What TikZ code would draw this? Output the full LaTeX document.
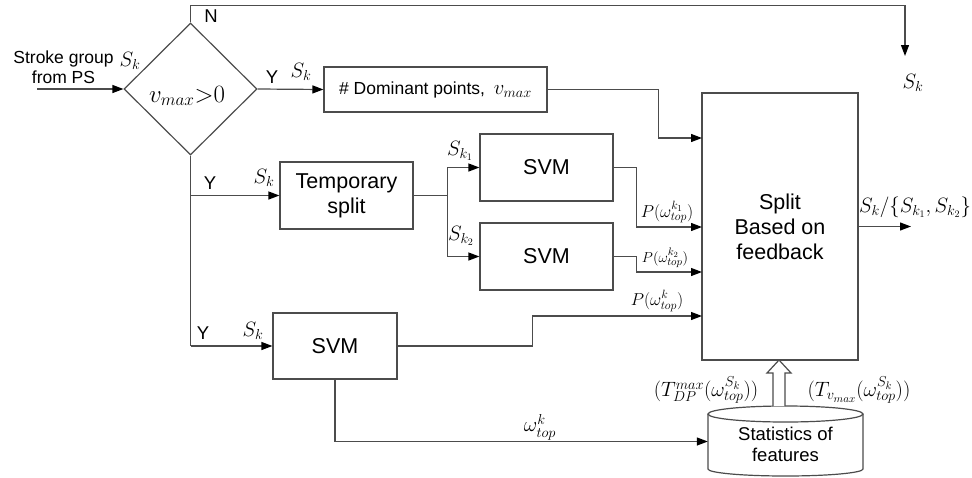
\documentclass[tikz,border=0pt]{standalone}
\usepackage{fontspec}
\setmainfont{Liberation Sans}
\usetikzlibrary{arrows.meta,shapes.geometric,calc}
\begin{document}
\begin{tikzpicture}[x=1pt,y=-1pt,
  line/.style={draw=black!70, line width=1.2pt},
  arr/.style={line, -{Triangle[length=11pt,width=8pt,color=black,fill=black]}},
  box/.style={draw=black!70, line width=1.2pt, fill=white, inner sep=0pt, align=center},
  big/.style={font=\fontsize{21.5}{25}\selectfont},
  mid/.style={font=\fontsize{17.5}{20.5}\selectfont},
  lab/.style={inner sep=0pt, font=\fontsize{20}{22}\selectfont},
  ylab/.style={inner sep=0pt, font=\fontsize{18.5}{18.5}\selectfont},
  mlab/.style={inner sep=0pt, font=\fontsize{18}{20}\selectfont}]
\useasboundingbox (0,0) rectangle (972,477);

% nodes
\node[diamond, draw=black!70, line width=1.2pt, minimum width=133pt, minimum height=132pt, inner sep=0pt] (dia) at (190.5,89) {};
\node[inner sep=0pt, font=\fontsize{24}{24}\selectfont] (cond) at (187,96) {$v_{max}{>}0$};
\node[box, mid, minimum width=223pt, minimum height=45pt] (dom) at (435.5,89.5) {\# Dominant points,\enspace{\fontsize{22}{22}\selectfont$v_{max}$}};
\node[box, big, minimum width=133pt, minimum height=67pt] (tmp) at (346.5,195.5) {Temporary\\split};
\node[box, big, minimum width=133pt, minimum height=67pt] (svm1) at (546.5,167.5) {SVM};
\node[box, big, minimum width=133pt, minimum height=67pt] (svm2) at (546.5,256.5) {SVM};
\node[box, big, minimum width=124pt, minimum height=66pt] (svm3) at (335,346) {SVM};
\node[box, big, minimum width=156pt, minimum height=267pt] (split) at (780,226.5) {Split\\Based on\\feedback};

% cylinder
\draw[line, fill=white] (708,414) -- (708,469) arc[start angle=180, end angle=360, x radius=77.5, y radius=-7] -- (863,414);
\draw[line, fill=white] (785.5,414) ellipse [x radius=77.5, y radius=8];
\node[inner sep=0pt, align=center, font=\fontsize{18.5}{21}\selectfont, minimum width=155pt, minimum height=71pt] (db) at (785.5,441.5) {\\[-1pt]Statistics of\\features};

% coordinates
\coordinate (in) at (37,89);
\coordinate (nend) at (905,56);
\coordinate (s1) at (702,138);
\coordinate (s2) at (702,227);
\coordinate (s3) at (702,272);
\coordinate (s4) at (702,316);
\coordinate (out) at (911,226.5);

% connectors
\draw[arr] (in) -- (dia.west);
\draw[arr] (dia.north) -- ++(0,-17) -| (nend);
\draw[arr] (dia.east) -- (dom.west);
\draw[arr] (dom.east) -- ++(111,0) |- (s1);
\draw[line] (dia.south) -- (dia.south |- svm3.west);
\draw[arr] (dia.south |- svm3.west) -- (svm3.west);
\draw[arr] (dia.south |- tmp.west) -- (tmp.west);
\draw[line] (tmp.east) -- ++(34,0) coordinate (br);
\draw[arr] (br) |- (svm1.west);
\draw[arr] (br) |- (svm2.west);
\draw[arr] (svm1.east) -- ++(23,0) |- (s2);
\draw[arr] (svm2.east) -- ++(23,0) |- (s3);
\draw[arr] (svm3.east) -- ++(135,0) |- (s4);
\draw[arr] (svm3.south) |- (db.west);
\draw[arr] (split.east) -- (out);

% hollow arrow
\coordinate (tipA) at (779,360);
\draw[line, fill=white, line join=miter] (tipA) ++(-6,46) -- ++(0,-33) -- ++(-6,0) -- (tipA) -- ++(12,13) -- ++(-6,0) -- ++(0,33);

% labels
\node[inner sep=0pt, align=center, font=\fontsize{17.5}{20}\selectfont] (src) at (63.5,67) {Stroke group\\from PS};
\node[lab] (lsk0) at (130,61) {$S_k$};
\node[ylab] (lN) at (211,16) {N};
\node[ylab] (lY1) at (272,77) {Y};
\node[lab] (lsk1) at (301,72) {$S_k$};
\node[ylab] (lY2) at (210,183) {Y};
\node[lab] (lsk2) at (264,178) {$S_k$};
\node[ylab] (lY3) at (203,333) {Y};
\node[lab] (lsk3) at (253,331) {$S_k$};
\node[lab] (lsk4) at (460,151) {$S_{k_1}$};
\node[lab] (lsk5) at (461,236) {$S_{k_2}$};
\node[mlab, anchor=south] (lp1) at (667,223) {$P(\omega_{top}^{k_1})$};
\node[inner sep=0pt, font=\fontsize{15.5}{17}\selectfont, anchor=south] (lp2) at (665,268) {$P(\omega_{top}^{k_2})$};
\node[mlab, anchor=south] (lp3) at (657,312) {$P(\omega_{top}^{k})$};
\node[inner sep=0pt, font=\fontsize{21}{22}\selectfont, anchor=south] (lw) at (540,440) {$\omega_{top}^{k}$};
\node[inner sep=0pt, font=\fontsize{19.5}{21}\selectfont] (lout) at (915,207) {$S_k/\{S_{k_1},S_{k_2}\}$};
\node[lab] (lskN) at (913,83) {$S_k$};
\node[inner sep=0pt, font=\fontsize{21}{23}\selectfont] (lT1) at (706,390) {$(T_{DP}^{max}(\omega_{top}^{S_k}))$};
\node[inner sep=0pt, font=\fontsize{21}{23}\selectfont] (lT2) at (859,390) {$(T_{v_{max}}(\omega_{top}^{S_k}))$};
\end{tikzpicture}
\end{document}
